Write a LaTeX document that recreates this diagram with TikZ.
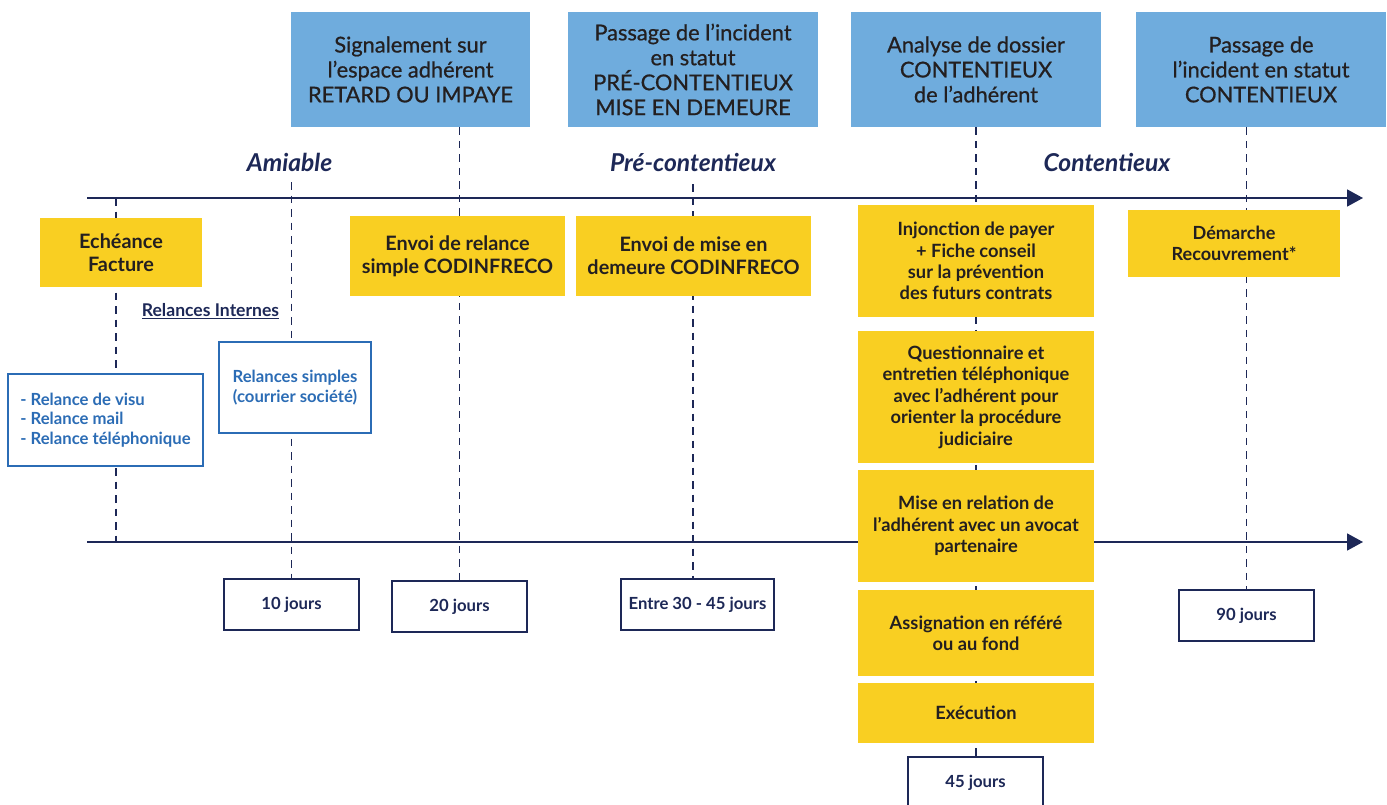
\documentclass[tikz,border=0pt]{standalone}
\usepackage{fontspec}
\setmainfont{Lato}
\newfontfamily\medfont{Lato}[FakeBold=0.7]
\usepackage{xcolor}
\usetikzlibrary{arrows.meta,backgrounds}

\definecolor{navy}{HTML}{1D2857}
\definecolor{skyblue}{HTML}{6FACDD}
\definecolor{gold}{HTML}{F9CF22}
\definecolor{linkblue}{HTML}{2B6CB5}
\definecolor{ink}{HTML}{231F20}

\tikzset{
  status/.style={fill=skyblue, text=ink, align=center, inner sep=0pt,
    minimum height=23mm, font=\medfont\fontsize{12.4}{14.2}\selectfont},
  task/.style={fill=gold, text=ink, align=center, inner sep=0pt,
    font=\bfseries\fontsize{11.3}{13.2}\selectfont},
  legal/.style={task, minimum width=47.2mm,
    font=\bfseries\fontsize{10.4}{12.2}\selectfont},
  relance/.style={draw=linkblue, fill=white, line width=0.35mm, text=linkblue,
    inner sep=0pt, font=\bfseries\fontsize{9.5}{11}\selectfont},
  delay/.style={draw=navy, fill=white, line width=0.4mm, text=navy, inner sep=0pt,
    minimum height=10.2mm, font=\bfseries\fontsize{9.5}{11}\selectfont},
  period/.style={text=navy, anchor=base, font=\bfseries\itshape\fontsize{14}{16}\selectfont},
  axis/.style={navy, line width=0.35mm, -{Triangle[length=3.2mm,width=3.4mm]}},
  guide/.style={navy, line width=0.34mm, dash pattern=on 1.5mm off 1.2mm},
}

\begin{document}
\begin{tikzpicture}[x=0.2mm,y=-0.2mm]
        \useasboundingbox (0,0) rectangle (1387,805);
        % status boxes
        \node[status, minimum width=47.8mm] (sig) at (410.5,69.5) {Signalement sur\\l’espace adhérent\\RETARD OU IMPAYE};
        \node[status, minimum width=50mm] (pre) at (693,69.5) {Passage de l’incident\\en statut\\PRÉ-CONTENTIEUX\\MISE EN DEMEURE};
        \node[status, minimum width=50mm] (ana) at (976,69.5) {Analyse de dossier\\CONTENTIEUX\\de l’adhérent};
        \node[status, minimum width=50mm] (con) at (1261,69.5) {Passage de\\l’incident en statut\\CONTENTIEUX};
        % periods
        \node[period] (amiable) at (289.5,172) {Amiable};
        \node[period] (precont) at (693,172) {Pré-contentieux};
        \node[period] (cont) at (1107,172) {Contentieux};
        % tasks
        \node[task, minimum width=32.4mm, minimum height=13.8mm] (ech) at (121,252.5) {Echéance\\Facture};
        \node[task, minimum width=43mm, minimum height=16mm] (rel) at (457.5,256) {Envoi de relance\\simple CODINFRECO};
        \node[task, minimum width=47mm, minimum height=16mm] (mde) at (693.5,256) {Envoi de mise en\\demeure CODINFRECO};
        \node[legal, minimum height=22.4mm] (inj) at (976,261) {Injonction de payer\\+ Fiche conseil\\sur la prévention\\des futurs contrats};
        \node[legal, minimum height=26.4mm] (que) at (976,397) {Questionnaire et\\entretien téléphonique\\avec l’adhérent pour\\orienter la procédure\\judiciaire};
        \node[legal, minimum height=22.4mm] (mer) at (976,526) {Mise en relation de\\l’adhérent avec un avocat\\partenaire};
        \node[legal, minimum height=17.2mm] (ass) at (976,633) {Assignation en référé\\ou au fond};
        \node[legal, minimum height=12mm] (exe) at (976,713) {Exécution};
        \node[legal, minimum width=42.4mm, minimum height=13.4mm,
          font=\bfseries\fontsize{10.3}{12}\selectfont] (dem) at (1234,243.5) {Démarche\\Recouvrement*};
        % internal reminders
        \node[text=navy, anchor=base, font=\bfseries\fontsize{10}{12}\selectfont] (internes) at (210.5,316) {\underline{Relances Internes}};
        \node[relance, align=left, minimum width=39mm, minimum height=18.4mm] (visu) at (105.5,420) {- Relance de visu\\- Relance mail\\- Relance téléphonique};
        \node[relance, align=center, minimum width=30.4mm, minimum height=18.2mm] (simples) at (295,387.5) {Relances simples\\(courrier société)};
        % delays
        \node[delay, minimum width=27mm] (j10) at (291.5,604.5) {10 jours};
        \node[delay, minimum width=27mm] (j20) at (459.5,606.5) {20 jours};
        \node[delay, minimum width=30.6mm] (j30) at (697.5,604.5) {Entre 30 - 45 jours};
        \node[delay, minimum width=27mm] (j90) at (1246.5,615.5) {90 jours};
        \node[delay, minimum width=27mm, minimum height=10.4mm] (j45) at (975.5,783) {45 jours};
        % axes and guides
        \coordinate (upa) at (87,198);
        \coordinate (upb) at (1363,198);
        \coordinate (lowa) at (87,542);
        \coordinate (lowb) at (1363,542);
        \coordinate (echtop) at (116,198);
        \coordinate (amitop) at (291.5,182);
        \coordinate (pretop) at (693,184);
        \begin{pgfonlayer}{background}
        \draw[axis] (upa) -- (upb);
        \draw[axis] (lowa) -- (lowb);
        \draw[guide] (echtop) -- (echtop |- lowa);
        \draw[guide] (amitop) -- (j10.north);
        \draw[guide] (j20.north |- sig.south) -- (j20.north);
        \draw[guide] (pretop) -- (pretop |- j30.north);
        \draw[guide] (ana.south) -- (ana.south |- j45.north);
        \draw[guide] (j90.north |- con.south) -- (j90.north);
        \end{pgfonlayer}
\end{tikzpicture}
\end{document}
